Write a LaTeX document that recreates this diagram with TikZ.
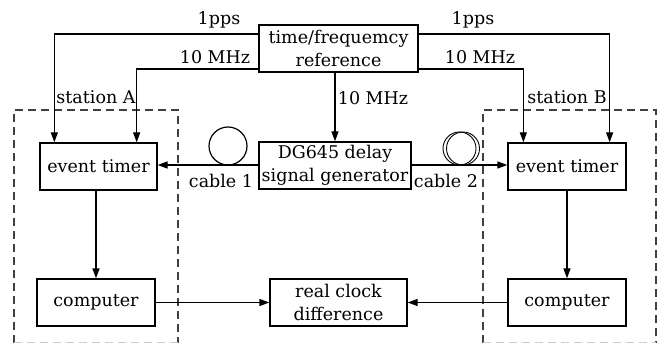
\documentclass[tikz,border=0pt]{standalone}
\usepackage{fontspec}
\setmainfont{DejaVu Serif}
\usetikzlibrary{arrows.meta,calc}
\begin{document}
\begin{tikzpicture}[x=1pt,y=-1pt,
  every node/.style={font=\fontsize{17.5}{22.5}\selectfont, text=black},
  blk/.style={draw, line width=1.3pt, inner sep=0pt, align=center, minimum height=47pt},
  arr/.style={line width=1.3pt, -{Triangle[length=10pt,width=7pt]}},
  ln/.style={line width=1.2pt},
  stationbox/.style={draw=black!75, line width=1.3pt, dash pattern=on 8pt off 5pt},
  lbl/.style={inner sep=0pt}]
\useasboundingbox (0,0) rectangle (663,344);
% station boxes
\draw[stationbox] (14,343) -- (14,110) -- (178,110) -- (178,343);
\draw[stationbox, draw=black!20, line width=0.8pt] (14,342.5) -- (178,342.5);
\draw[stationbox] (483,343) -- (483,110) -- (656,110) -- (656,343);
\draw[stationbox, draw=black!20, line width=0.8pt] (483,342.5) -- (656,342.5);
% blocks
\node[blk, minimum width=159pt] (ref) at (338.5,48.5) {time/frequemcy\\reference};
\node[blk, minimum width=152pt] (dg) at (335,165.5) {DG645 delay\\signal generator};
\node[blk, minimum width=117pt] (etA) at (98.5,166.5) {event timer};
\node[blk, minimum width=118pt] (etB) at (567,166.5) {event timer};
\node[blk, minimum width=118pt] (cA) at (96,302.5) {computer};
\node[blk, minimum width=118pt] (cB) at (567,302.5) {computer};
\node[blk, minimum width=137pt] (rc) at (338.5,302.5) {real clock\\difference};
% labels
\node[lbl] (l1) at (219,20) {1pps};
\node[lbl] (l2) at (473,20) {1pps};
\node[lbl] (l3) at (215,57) {10 MHz};
\node[lbl] (l4) at (480,57) {10 MHz};
\node[lbl] (l5) at (373,98) {10 MHz};
\node[lbl] (sA) at (96,97) {station A};
\node[lbl] (sB) at (567,97) {station B};
\node[lbl] (c1) at (221,181) {cable 1};
\node[lbl] (c2) at (446,181) {cable 2};
% reference connectors
\draw[arr] ([yshift=14.5pt]ref.west) -| ([xshift=15pt]etA.north west);
\draw[arr] ([yshift=-20.5pt]ref.west) -| ([xshift=-21pt]etA.north east);
\draw[arr] ([yshift=14.5pt]ref.east) -| ([xshift=-17pt]etB.north east);
\draw[arr] ([yshift=-20.5pt]ref.east) -| ([xshift=16pt]etB.north west);
\draw[arr] (ref.south -| dg.north) -- (dg.north);
% cables
\coordinate (cl) at ([yshift=0.5pt]dg.west);
\coordinate (cr) at ([yshift=0.5pt]dg.east);
\draw[arr] (cl) -- (cl -| etA.east);
\draw[arr] (cr) -- (cr -| etB.west);
\draw[ln] (228,146) circle (19);
\draw[line width=0.9pt] (459.5,148.5) circle (16.5);
\draw[line width=0.9pt] (463,148.5) circle (16.5);
% down arrows
\draw[arr] (etA.south -| cA.north) -- (cA.north);
\draw[arr] (etB.south) -- (cB.north);
% to real clock difference
\draw[arr] (cA.east) -- (rc.west);
\draw[arr] (cB.west) -- (rc.east);
\end{tikzpicture}
\end{document}
